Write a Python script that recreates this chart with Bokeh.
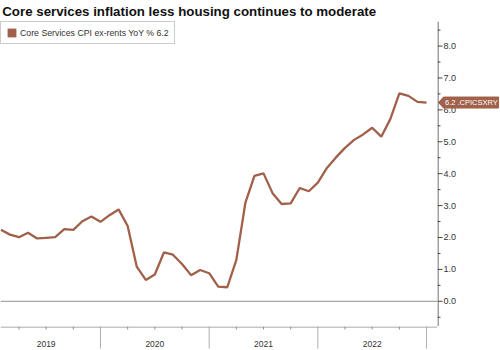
import pandas as pd
from bokeh.plotting import figure
from bokeh.layouts import column, row
from bokeh.models import (ColumnDataSource, FixedTicker, Range1d, Span, Legend, LegendItem)
from bokeh.core.properties import value
from bokeh.embed import file_html
from bokeh.resources import INLINE

# ---- data ----
title = "Core services inflation less housing continues to moderate"
series_name = "Core Services CPI ex-rents YoY % 6.2"
tag_text = "6.2 .CPICSXRY"
months = [d.strftime("%Y-%m") for d in pd.date_range("2019-01-01", "2022-12-01", freq="MS")]
values = [2.24, 2.09, 2.01, 2.15, 1.97, 1.99, 2.01, 2.26, 2.24, 2.51, 2.66, 2.49,
          2.70, 2.88, 2.36, 1.09, 0.67, 0.84, 1.53, 1.46, 1.17, 0.82, 0.98, 0.88,
          0.46, 0.44, 1.30, 3.09, 3.93, 4.01, 3.39, 3.05, 3.07, 3.55, 3.45, 3.72,
          4.18, 4.51, 4.81, 5.06, 5.23, 5.44, 5.16, 5.71, 6.52, 6.44, 6.25, 6.23]
years = ["2019", "2020", "2021", "2022"]
y_ticks = [0, 1, 2, 3, 4, 5, 6, 7, 8]
y_tick_labels = ["0.0", "1.0", "2.0", "3.0", "4.0", "5.0", "6.0", "7.0", "8.0"]

# month position: months since start of 2019, plotted at month end
xpos = [(int(m[:4]) - 2019) * 12 + int(m[5:]) for m in months]
year_centers = [(int(y) - 2019) * 12 + 6 for y in years]
year_bounds = [(int(y) - 2019) * 12 for y in years] + [(int(years[-1]) - 2019 + 1) * 12]
quarter_ticks = [q * 3 for q in range(0, 17) if q % 4 != 0]
minor_y = [v / 2 for v in range(-1, 18) if v % 2 != 0]

BROWN = "#a0604a"
FONT = "Liberation Sans"
W_MAIN, W_RIGHT = 437, 63
H_TITLE, H_MAIN, H_BOTTOM = 21, 305, 24


def bare(fig):
    fig.outline_line_color = None
    fig.background_fill_color = "white"
    fig.border_fill_color = "white"
    fig.xgrid.grid_line_color = None
    fig.ygrid.grid_line_color = None
    fig.min_border = 0
    return fig


x_range = Range1d(0.96, 49.21)
y_range = Range1d(-0.79, 8.77)

# ---- title strip ----
pt = bare(figure(width=W_MAIN + W_RIGHT, height=H_TITLE, output_backend="svg",
                 toolbar_location=None, x_range=Range1d(0, W_MAIN + W_RIGHT),
                 y_range=Range1d(0, H_TITLE), x_axis_type=None, y_axis_type=None))
pt.text(x=[2], y=[H_TITLE - 10.5], text=[title], text_font=value(FONT),
        text_font_style="bold", text_font_size="13.3px", text_color="#111111",
        text_baseline="middle", text_align="left")

# ---- main plot ----
p = bare(figure(width=W_MAIN, height=H_MAIN, output_backend="svg", toolbar_location=None,
                x_range=x_range, y_range=y_range, x_axis_type=None, y_axis_type=None))
p.ygrid.ticker = FixedTicker(ticks=[t for t in y_ticks if t != 0])
p.ygrid.grid_line_color = "#c8c8c8"
p.ygrid.grid_line_dash = "1 2"
p.add_layout(Span(location=0, dimension="width", line_color="#909090", line_width=1))

src = ColumnDataSource(dict(x=xpos, y=values))
p.line("x", "y", source=src, line_color=BROWN, line_width=2.3)

swatch = p.rect(x=xpos[:1], y=values[:1], width=0, height=0,
                fill_color=BROWN, line_color=None)
leg = Legend(items=[LegendItem(label=series_name, renderers=[swatch])],
             location="top_left")
leg.margin = 0
leg.padding = 5
leg.glyph_width = 11
leg.glyph_height = 11
leg.label_height = 11
leg.label_standoff = 3
leg.label_text_font = FONT
leg.label_text_font_size = "8.75px"
leg.label_text_color = "#333333"
leg.border_line_color = "#999999"
leg.border_line_width = 1
leg.background_fill_alpha = 1
p.add_layout(leg, "center")

# ---- right axis strip ----
pr = bare(figure(width=W_RIGHT, height=H_MAIN, output_backend="svg", toolbar_location=None,
                 x_range=Range1d(0, W_RIGHT), y_range=y_range,
                 x_axis_type=None, y_axis_type=None))
pr.add_layout(Span(location=0.5, dimension="height", line_color="#444444", line_width=1))
pr.segment(x0=0, y0=y_ticks, x1=5, y1=y_ticks, line_color="#444444", line_width=1)
pr.segment(x0=0, y0=minor_y, x1=3, y1=minor_y, line_color="#444444", line_width=1)
pr.text(x=6, y=y_ticks, text=y_tick_labels, text_font=value(FONT), text_font_size="9px",
        text_color="#333333", text_baseline="middle", text_align="left")
last = values[-1]
half = 5.5 / 31.9
pr.patch(x=[1, 6, 61, 61, 6], y=[last, last + half, last + half, last - half, last - half],
         fill_color=BROWN, line_color=BROWN)
pr.text(x=[7.5], y=[last], text=[tag_text], text_font=value(FONT), text_font_size="7.5px",
        text_color="white", text_baseline="middle", text_align="left")

# ---- bottom (time axis) strip ----
pb = bare(figure(width=W_MAIN + W_RIGHT, height=H_BOTTOM, output_backend="svg",
                 toolbar_location=None, x_range=x_range, y_range=Range1d(0, H_BOTTOM),
                 x_axis_type=None, y_axis_type=None))
pb.min_border_right = W_RIGHT
pb.add_layout(Span(location=H_BOTTOM - 0.5, dimension="width", line_color="#909090",
                   line_width=1))
pb.segment(x0=quarter_ticks, y0=H_BOTTOM, x1=quarter_ticks, y1=H_BOTTOM - 3,
           line_color="#909090", line_width=1)
pb.segment(x0=year_bounds, y0=H_BOTTOM, x1=year_bounds, y1=2,
           line_color="#b0b0b0", line_width=1)
pb.text(x=year_centers, y=7, text=years, text_font=value(FONT), text_font_size="8.5px",
        text_color="#333333", text_baseline="middle", text_align="center")

layout = column(pt, row(p, pr, spacing=0), pb, spacing=0)
open("out.html", "w").write(file_html(layout, INLINE))
